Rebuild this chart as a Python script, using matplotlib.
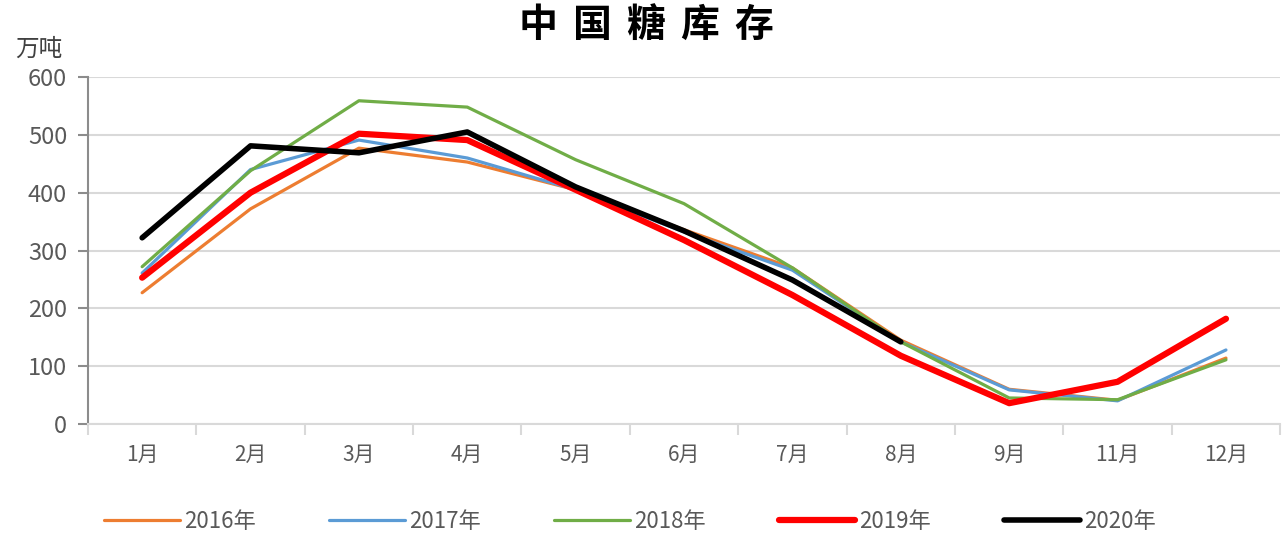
import matplotlib
matplotlib.use("Agg")
import matplotlib.pyplot as plt
import numpy as np

plt.rcParams['font.family'] = ['Noto Sans CJK SC', 'DejaVu Sans']

# data (万吨)
months = ['1月', '2月', '3月', '4月', '5月', '6月', '7月', '8月', '9月', '11月', '12月']
y2016 = [227, 372, 477, 453, 405, 336, 270, 145, 60, 41, 114]
y2017 = [261, 440, 491, 460, 405, 332, 266, 142, 59, 40, 128]
y2018 = [272, 438, 559, 548, 457, 381, 270, 142, 45, 42, 111]
y2019 = [253, 400, 502, 491, 405, 318, 223, 118, 36, 73, 182]
y2020 = [322, 481, 469, 505, 410, 334, 249, 142]
title = '中国糖库存'

fig = plt.figure(figsize=(12.84, 5.35), dpi=100)
ax = fig.add_axes([0.0685, 0.2075, 0.9285, 0.6485])

x = np.arange(len(months))
ax.plot(x, y2016, color='#ED7D31', lw=2.3, label='2016年', solid_capstyle='round')
ax.plot(x, y2017, color='#5B9BD5', lw=2.3, label='2017年', solid_capstyle='round')
ax.plot(x, y2018, color='#70AD47', lw=2.3, label='2018年', solid_capstyle='round')
ax.plot(x, y2019, color='#FF0000', lw=4.5, label='2019年', solid_capstyle='round')
ax.plot(x[:len(y2020)], y2020, color='#000000', lw=4, label='2020年', solid_capstyle='round')

ax.set_xlim(-0.5, len(months) - 0.5)
ax.set_ylim(0, 600)
ax.set_yticks(range(0, 601, 100))
ax.set_xticks(x)
ax.set_xticklabels(months)
ax.set_xticks(np.arange(-0.5, len(months), 1), minor=True)
ax.tick_params(axis='x', which='major', length=0, pad=14, labelsize=15, labelcolor='#595959')
ax.tick_params(axis='x', which='minor', length=8, width=1.5, color='#d9d9d9')
ax.tick_params(axis='y', length=7, width=1.5, color='#8c8c8c', labelsize=17, labelcolor='#595959', pad=8)

ax.grid(axis='y', color='#d9d9d9', lw=1.5)
ax.set_axisbelow(True)
for s in ['top', 'right']:
    ax.spines[s].set_visible(False)
ax.spines['left'].set_color('#8c8c8c')
ax.spines['left'].set_linewidth(1.5)
ax.spines['bottom'].set_color('#d9d9d9')
ax.spines['bottom'].set_linewidth(1.5)

# title drawn with wide letter spacing
for i, ch in enumerate(title):
    fig.text((538 + i * 54) / 1284, 0.953, ch, ha='center', va='center',
             fontsize=28, fontweight='bold', color='#000000')
fig.text(0.012, 0.908, '万吨', ha='left', va='center', fontsize=17, color='#404040')

leg = fig.legend(loc='center', bbox_to_anchor=(0.4907, 0.025), ncol=5, frameon=False,
                 fontsize=16, handlelength=3.4, columnspacing=3.3, handletextpad=0.2)
for t in leg.get_texts():
    t.set_color('#595959')

fig.savefig('out.png', dpi=100)
